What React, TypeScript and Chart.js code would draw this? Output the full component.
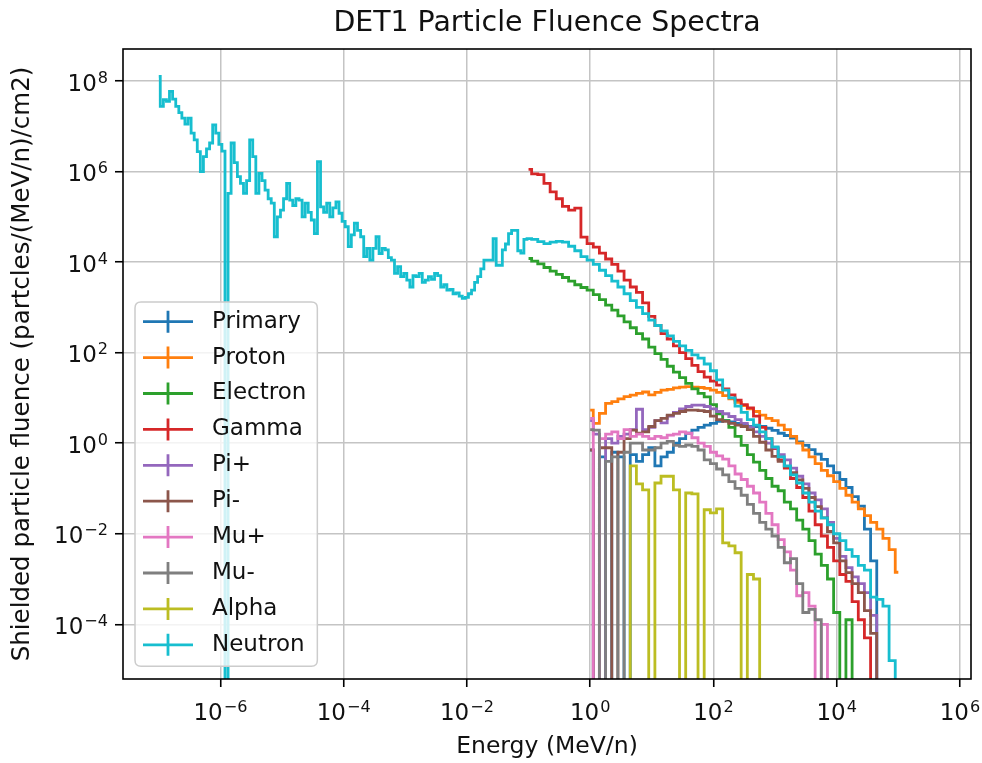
import React, { useEffect, useRef } from "react";
import { Chart, registerables } from "chart.js";

Chart.register(...registerables);

// ---------- text ----------
const TITLE = "DET1 Particle Fluence Spectra";
const X_LABEL = "Energy (MeV/n)";
const Y_LABEL = "Shielded particle fluence (partcles/(MeV/n)/cm2)";

// ---------- axes ----------
const X_MIN = 2.63e-8;
const X_MAX = 1.51e6;
const Y_MIN = 6.19e-6;
const Y_MAX = 5.09e8;
const X_TICKS = [1e-6, 1e-4, 1e-2, 1, 1e2, 1e4, 1e6];
const X_TICK_EXPONENTS = ["−6", "−4", "−2", "0", "2", "4", "6"];
const Y_TICKS = [1e-4, 1e-2, 1, 1e2, 1e4, 1e6, 1e8];
const Y_TICK_EXPONENTS = ["−4", "−2", "0", "2", "4", "6", "8"];
const TICK_BASE = "10";

// ---------- series ----------
const SERIES_NAMES = ["Primary", "Proton", "Electron", "Gamma", "Pi+", "Pi-", "Mu+", "Mu-", "Alpha", "Neutron"];
const SERIES_COLORS = ["#1f77b4", "#ff7f0e", "#2ca02c", "#d62728", "#9467bd", "#8c564b", "#e377c2", "#7f7f7f", "#bcbd22", "#17becf"];

// neutron low-energy bins (MeV/n)
const NEUTRON_LOW_ENERGY = [
  1.00e-7, 1.12e-7, 1.26e-7, 1.41e-7, 1.58e-7, 1.78e-7, 2.00e-7, 2.24e-7, 2.51e-7, 2.82e-7, 3.16e-7, 3.55e-7, 3.98e-7, 4.47e-7, 5.01e-7, 5.62e-7, 6.31e-7, 7.08e-7, 7.94e-7, 8.91e-7,
  1.00e-6, 1.12e-6, 1.26e-6, 1.41e-6, 1.58e-6, 1.78e-6, 2.00e-6, 2.24e-6, 2.51e-6, 2.82e-6, 3.16e-6, 3.55e-6, 3.98e-6, 4.47e-6, 5.01e-6, 5.62e-6, 6.31e-6, 7.08e-6, 7.94e-6, 8.91e-6,
  1.00e-5, 1.12e-5, 1.26e-5, 1.41e-5, 1.58e-5, 1.78e-5, 2.00e-5, 2.24e-5, 2.51e-5, 2.82e-5, 3.16e-5, 3.55e-5, 3.98e-5, 4.47e-5, 5.01e-5, 5.62e-5, 6.31e-5, 7.08e-5, 7.94e-5, 8.91e-5,
  1.00e-4, 1.12e-4, 1.26e-4, 1.41e-4, 1.58e-4, 1.78e-4, 2.00e-4, 2.24e-4, 2.51e-4, 2.82e-4, 3.16e-4, 3.55e-4, 3.98e-4, 4.47e-4, 5.01e-4, 5.62e-4, 6.31e-4, 7.08e-4, 7.94e-4, 8.91e-4,
  1.00e-3, 1.12e-3, 1.26e-3, 1.41e-3, 1.58e-3, 1.78e-3, 2.00e-3, 2.24e-3, 2.51e-3, 2.82e-3, 3.16e-3, 3.55e-3, 3.98e-3, 4.47e-3, 5.01e-3, 5.62e-3, 6.31e-3, 7.08e-3, 7.94e-3, 8.91e-3,
  1.00e-2, 1.12e-2, 1.26e-2, 1.41e-2, 1.58e-2, 1.78e-2, 2.00e-2, 2.24e-2, 2.51e-2, 2.82e-2, 3.16e-2, 3.55e-2, 3.98e-2, 4.47e-2, 5.01e-2, 5.62e-2, 6.31e-2, 7.08e-2, 7.94e-2, 8.91e-2,
];
const NEUTRON_LOW_FLUENCE = [
  1.26e8, 2.75e7, 3.89e7, 3.55e7, 5.89e7, 3.98e7, 2.75e7, 2.0e7, 1.51e7, 1.12e7, 1.51e7, 7.08e6, 5.01e6, 2.75e6, 1.0e6, 2.14e6, 3.16e6, 4.27e6, 1.07e7, 7.08e6,
  3.98e6, 2.82e6, 0, 3.31e5, 4.27e6, 1.58e6, 7.76e5, 5.50e5, 3.31e5, 6.31e5, 5.01e6, 2.14e6, 3.31e5, 9.12e5, 6.31e5, 3.89e5, 2.51e5, 2.0e5, 3.63e4, 1.0e5,
  1.41e5, 2.51e5, 5.50e5, 2.34e5, 1.78e5, 2.51e5, 2.34e5, 1.0e5, 2.0e5, 1.26e5, 8.51e4, 4.27e4, 1.66e6, 1.66e5, 1.26e5, 2.0e5, 1.0e5, 1.58e5, 2.14e5, 1.20e5,
  7.94e4, 6.03e4, 2.19e4, 3.98e4, 7.24e4, 5.01e4, 3.63e4, 1.32e4, 2.0e4, 1.10e4, 2.0e4, 3.63e4, 1.55e4, 2.0e4, 1.86e4, 1.26e4, 1.10e4, 5.62e3, 7.94e3, 4.79e3,
  5.62e3, 3.98e3, 2.82e3, 5.01e3, 4.79e3, 5.62e3, 3.55e3, 3.98e3, 4.79e3, 4.17e3, 5.62e3, 5.01e3, 2.82e3, 3.16e3, 2.40e3, 2.51e3, 2.0e3, 2.09e3, 1.78e3, 1.58e3,
  1.66e3, 2.0e3, 2.40e3, 3.55e3, 4.79e3, 7.08e3, 1.10e4, 1.10e4, 1.10e4, 3.31e4, 8.51e3, 8.51e3, 1.86e4, 2.51e4, 4.27e4, 5.01e4, 5.01e4, 1.78e4, 1.58e4, 3.16e4,
];

// shared energy bins (MeV/n) for the higher-energy spectra
const ENERGY = [
  0.100, 0.126, 0.158, 0.200, 0.251, 0.316, 0.398, 0.501, 0.631, 0.794,
  1.00, 1.26, 1.58, 2.00, 2.51, 3.16, 3.98, 5.01, 6.31, 7.94,
  10.0, 12.6, 15.8, 20.0, 25.1, 31.6, 39.8, 50.1, 63.1, 79.4,
  100, 126, 158, 200, 251, 316, 398, 501, 631, 794,
  1000, 1260, 1580, 2000, 2510, 3160, 3980, 5010, 6310, 7940,
  10000, 12600, 15800, 20000, 25100, 31600, 39800, 50100, 63100, 79400,
  100000,
];

const PRIMARY = [
  null, null, null, null, null, null, null, null, null, null,
  0.708, 0, 0.501, 0, 0.631, 0.501, 0, 0.562, 0.398, 0.562,
  0.794, 0.316, 0.501, 0.631, 1.0, 1.26, 1.66, 1.95, 2.24, 2.51,
  2.75, 3.02, 3.16, 2.95, 2.75, 2.51, 2.34, 2.34, 2.34, 2.14,
  1.91, 1.66, 1.48, 1.29, 1.07, 0.891, 0.724, 0.575, 0.437, 0.316,
  0.224, 0.158, 0.105, 0.0661, 0.0407, 0.0126, 0.00251, 0, null, null,
  null,
];
const PROTON = [
  null, null, null, null, null, null, null, null, null, null,
  5.37, 2.75, 4.57, 7.59, 8.32, 9.55, 10.7, 11.5, 12.6, 13.5,
  11.7, 13.2, 14.8, 15.5, 16.6, 17.4, 17.8, 17.4, 17.0, 16.2,
  14.8, 13.2, 11.2, 9.55, 7.94, 6.76, 5.75, 5.01, 4.17, 3.55,
  3.16, 2.51, 2.0, 1.41, 1.0, 0.708, 0.501, 0.355, 0.251, 0.191,
  0.141, 0.100, 0.0708, 0.0501, 0.0355, 0.0251, 0.0178, 0.0126, 0.00794, 0.00447,
  0.00141,
];
const ELECTRON = [
  12000, 10500, 9120, 7590, 6310, 5370, 4570, 3800, 3160, 2750,
  2400, 1910, 1480, 1120, 871, 646, 479, 355, 263, 200,
  132, 95.5, 70.8, 50.1, 37.2, 28.2, 20.9, 15.8, 12.6, 10.5,
  7.08, 4.47, 3.16, 2.24, 1.41, 0.891, 0.562, 0.380, 0.251, 0.166,
  0.112, 0.0891, 0.0501, 0.0355, 0.0200, 0.0126, 0.00708, 0.00355, 0.00200, 0.00100,
  0.000182, 0, 0.000126, 0, null, null, null, null, null, null,
  null,
];
const GAMMA = [
  1.12e6, 8.91e5, 8.51e5, 5.50e5, 3.55e5, 2.51e5, 1.70e5, 1.41e5, 1.55e5, 3.55e4,
  2.57e4, 2.14e4, 1.58e4, 1.17e4, 8910, 6310, 3980, 2820, 2140, 1260,
  631, 398, 263, 200, 141, 100, 74.1, 52.5, 38.0, 28.8,
  23.4, 19.1, 15.8, 11.7, 8.91, 7.08, 6.03, 3.98, 2.24, 1.26,
  0.759, 0.427, 0.282, 0.166, 0.105, 0.0631, 0.0316, 0.0158, 0.00891, 0.00501,
  0.00251, 0.00126, 0.000891, 0.000316, 0.000126, 0.0000501, 0, null, null, null,
  null,
];
const PI_PLUS = [
  null, null, null, null, null, null, null, null, null, null,
  3.16, 1.58, 0, 1.26, 1.0, 1.41, 1.58, 2.0, 5.62, 2.0,
  2.24, 3.16, 2.82, 3.98, 4.79, 5.75, 6.46, 6.92, 6.92, 6.46,
  5.75, 5.01, 4.47, 3.89, 3.31, 2.75, 2.29, 1.78, 1.41, 1.0,
  0.794, 0.562, 0.427, 0.282, 0.186, 0.126, 0.0794, 0.0562, 0.0355, 0.0178,
  0.00794, 0.00316, 0.00178, 0.00112, 0.000794, 0.000501, 0.000158, 0, null, null,
  null,
];
const PI_MINUS = [
  null, null, null, null, null, null, null, null, null, null,
  0.708, 0, 0.794, 0.794, 0, 0.631, 1.26, 1.95, 1.66, 1.78,
  2.34, 3.16, 3.55, 4.17, 4.57, 5.01, 5.37, 5.37, 5.25, 5.01,
  3.98, 3.31, 3.02, 2.75, 2.51, 2.34, 2.0, 1.41, 1.05, 0.708,
  0.513, 0.398, 0.309, 0.224, 0.155, 0.100, 0.0631, 0.0398, 0.0224, 0.0112,
  0.00631, 0.00251, 0.00138, 0.000794, 0.000501, 0.000200, 0.0000631, 0, null, null,
  null,
];
const MU_PLUS = [
  null, null, null, null, null, null, null, null, null, null,
  3.55, 0, 1.26, 1.58, 1.78, 1.26, 2.0, 1.41, 1.58, 1.41,
  1.26, 1.41, 1.32, 1.51, 1.58, 1.78, 1.66, 1.32, 1.0, 0.851,
  0.631, 0.525, 0.447, 0.316, 0.209, 0.158, 0.112, 0.0794, 0.0501, 0.0282,
  0.0158, 0.00741, 0.00398, 0.00158, 0.000427, 0.000501, 0.000251, 0, 0.000100, 0,
  null, null, null, null, null, null, null, null, null, null,
  null,
];
const MU_MINUS = [
  null, null, null, null, null, null, null, null, null, null,
  2.0, 1.95, 0, 0.398, 0.501, 0, 0.631, 1.0, 1.0, 0.708,
  0.708, 0.794, 1.0, 1.10, 0.891, 0.851, 0.912, 0.851, 0.708, 0.427,
  0.355, 0.269, 0.200, 0.141, 0.100, 0.0708, 0.0447, 0.0282, 0.0178, 0.0126,
  0.00891, 0.00501, 0.00229, 0.00282, 0.000794, 0.000182, 0.000214, 0.000126, 0, null,
  null, null, null, null, null, null, null, null, null, null,
  null,
];
const ALPHA = [
  null, null, null, null, null, null, null, null, null, null,
  null, null, null, null, null, null, 0, 0.316, 0.126, 0.0933,
  0, 0.132, 0.186, 0.186, 0.0933, 0, 0.0794, 0.0759, 0, 0.0339,
  0.0288, 0.0355, 0.00631, 0.00537, 0.00380, 0, 0.00126, 0.00100, 0, null,
  null, null, null, null, null, null, null, null, null, null,
  null, null, null, null, null, null, null, null, null, null,
  null,
];
const NEUTRON_HIGH = [
  33100, 31600, 28200, 25700, 27500, 28800, 27500, 22400, 17800, 13200,
  11000, 8910, 6610, 5010, 3800, 2820, 2000, 1410, 1000, 724,
  525, 398, 302, 234, 178, 141, 112, 89.1, 75.9, 56.2,
  39.8, 25.1, 14.8, 10.0, 6.61, 4.79, 3.31, 2.51, 1.78, 1.26,
  0.832, 0.501, 0.316, 0.200, 0.132, 0.0794, 0.0501, 0.0316, 0.0224, 0.0158,
  0.0100, 0.00708, 0.00447, 0.00316, 0.00200, 0.00158, 0.000398, 0.000355, 0.000251, 0.0000158,
  0,
];

const FONT = '"DejaVu Sans", "Liberation Sans", sans-serif';
const TEXT_COLOR = "#111111";
// empty (zero) bins sit below the log axis floor and are clipped, as in matplotlib
const BELOW_FLOOR = 1e-12;

type Pt = { x: number; y: number };
function toPoints(energy: number[], values: (number | null)[]): Pt[] {
  const out: Pt[] = [];
  energy.forEach((e, i) => {
    const v = values[i];
    if (v !== null && v !== undefined) out.push({ x: e, y: v > 0 ? v : BELOW_FLOOR });
  });
  return out;
}

const SERIES_POINTS: Pt[][] = [
  toPoints(ENERGY, PRIMARY),
  toPoints(ENERGY, PROTON),
  toPoints(ENERGY, ELECTRON),
  toPoints(ENERGY, GAMMA),
  toPoints(ENERGY, PI_PLUS),
  toPoints(ENERGY, PI_MINUS),
  toPoints(ENERGY, MU_PLUS),
  toPoints(ENERGY, MU_MINUS),
  toPoints(ENERGY, ALPHA),
  toPoints(NEUTRON_LOW_ENERGY, NEUTRON_LOW_FLUENCE).concat(toPoints(ENERGY, NEUTRON_HIGH)),
];

function drawPower(ctx: CanvasRenderingContext2D, exp: string, x: number, baseline: number, align: "center" | "right") {
  ctx.font = `23px ${FONT}`;
  const wb = ctx.measureText(TICK_BASE).width;
  ctx.font = `16.1px ${FONT}`;
  const we = ctx.measureText(exp).width;
  const total = wb + we + 1;
  const x0 = align === "center" ? x - total / 2 : x - total;
  ctx.textAlign = "left";
  ctx.textBaseline = "alphabetic";
  ctx.font = `23px ${FONT}`;
  ctx.fillText(TICK_BASE, x0, baseline);
  ctx.font = `16.1px ${FONT}`;
  ctx.fillText(exp, x0 + wb + 1, baseline - 8);
}

const framePlugin = {
  id: "mplFrame",
  afterDraw(chart: any) {
    const { ctx, chartArea, scales } = chart;
    const { left, top, right, bottom } = chartArea;
    ctx.save();
    // spines
    ctx.strokeStyle = "#000";
    ctx.lineWidth = 1.6;
    ctx.strokeRect(left, top, right - left, bottom - top);

    // tick labels
    ctx.fillStyle = TEXT_COLOR;
    X_TICKS.forEach((v, i) => {
      drawPower(ctx, X_TICK_EXPONENTS[i], scales.x.getPixelForValue(v), bottom + 41, "center");
    });
    Y_TICKS.forEach((v, i) => {
      drawPower(ctx, Y_TICK_EXPONENTS[i], left - 15, scales.y.getPixelForValue(v) + 9.7, "right");
    });

    // legend
    ctx.font = `23px ${FONT}`;
    const rowH = 35.9;
    const boxLeft = left + 12;
    const boxTop = top + 253;
    const firstRow = boxTop + 19.7;
    const textX = boxLeft + 77;
    const textW = Math.max(...SERIES_NAMES.map((s) => ctx.measureText(s).width));
    const boxW = textX - boxLeft + textW + 11;
    const boxH = rowH * (SERIES_NAMES.length - 1) + 19.7 + 21.5;
    const r = 6;
    ctx.beginPath();
    ctx.moveTo(boxLeft + r, boxTop);
    ctx.lineTo(boxLeft + boxW - r, boxTop);
    ctx.quadraticCurveTo(boxLeft + boxW, boxTop, boxLeft + boxW, boxTop + r);
    ctx.lineTo(boxLeft + boxW, boxTop + boxH - r);
    ctx.quadraticCurveTo(boxLeft + boxW, boxTop + boxH, boxLeft + boxW - r, boxTop + boxH);
    ctx.lineTo(boxLeft + r, boxTop + boxH);
    ctx.quadraticCurveTo(boxLeft, boxTop + boxH, boxLeft, boxTop + boxH - r);
    ctx.lineTo(boxLeft, boxTop + r);
    ctx.quadraticCurveTo(boxLeft, boxTop, boxLeft + r, boxTop);
    ctx.closePath();
    ctx.fillStyle = "rgba(255,255,255,0.8)";
    ctx.fill();
    ctx.strokeStyle = "#cccccc";
    ctx.lineWidth = 1.5;
    ctx.stroke();

    SERIES_NAMES.forEach((name, i) => {
      const y = firstRow + i * rowH;
      ctx.strokeStyle = SERIES_COLORS[i];
      ctx.lineWidth = 2.8;
      ctx.beginPath();
      ctx.moveTo(boxLeft + 8, y);
      ctx.lineTo(boxLeft + 58, y);
      ctx.moveTo(boxLeft + 33, y - 11);
      ctx.lineTo(boxLeft + 33, y + 11);
      ctx.stroke();
      ctx.fillStyle = TEXT_COLOR;
      ctx.textAlign = "left";
      ctx.textBaseline = "middle";
      ctx.font = `23px ${FONT}`;
      ctx.fillText(name, textX, y);
    });

    // title
    ctx.font = `28.4px ${FONT}`;
    ctx.fillStyle = TEXT_COLOR;
    ctx.textAlign = "center";
    ctx.textBaseline = "middle";
    ctx.fillText(TITLE, (left + right) / 2, 23.5);
    ctx.restore();
  },
};

export default function App() {
  const ref = useRef<HTMLCanvasElement>(null);
  useEffect(() => {
    if (!ref.current) return;
    const chart = new Chart(ref.current, {
      type: "line",
      data: {
        datasets: SERIES_NAMES.map((name, i) => ({
          label: name,
          data: SERIES_POINTS[i],
          borderColor: SERIES_COLORS[i],
          backgroundColor: SERIES_COLORS[i],
          borderWidth: 2.8,
          pointRadius: 0,
          stepped: "middle" as const,
          fill: false,
          clip: 0,
          order: SERIES_NAMES.length - i,
        })),
      },
      options: {
        animation: false,
        responsive: false,
        devicePixelRatio: 1,
        layout: { padding: { top: 49, right: 11, left: 0, bottom: 0 } },
        plugins: {
          legend: { display: false },
          title: { display: false },
          tooltip: { enabled: false },
        },
        scales: {
          x: {
            type: "logarithmic",
            min: X_MIN,
            max: X_MAX,
            afterBuildTicks: (s: any) => {
              s.ticks = X_TICKS.map((v) => ({ value: v }));
            },
            afterFit: (s: any) => {
              s.height = 84;
              s.paddingLeft = 0;
              s.paddingRight = 0;
            },
            border: { display: false },
            grid: { color: "#c4c4c4", lineWidth: 1.5, tickColor: "#000", tickWidth: 1.6, tickLength: 8 },
            ticks: { display: false, autoSkip: false, maxRotation: 0, minRotation: 0 },
            title: {
              display: true,
              text: X_LABEL,
              color: TEXT_COLOR,
              font: { family: FONT, size: 23.5 },
              padding: { top: 0, bottom: 2 },
            },
          },
          y: {
            type: "logarithmic",
            min: Y_MIN,
            max: Y_MAX,
            afterBuildTicks: (s: any) => {
              s.ticks = Y_TICKS.map((v) => ({ value: v }));
            },
            afterFit: (s: any) => {
              s.width = 123;
              s.paddingTop = 0;
              s.paddingBottom = 0;
            },
            border: { display: false },
            grid: { color: "#c4c4c4", lineWidth: 1.5, tickColor: "#000", tickWidth: 1.6, tickLength: 8 },
            ticks: { display: false, autoSkip: false },
            title: {
              display: true,
              text: Y_LABEL,
              color: TEXT_COLOR,
              font: { family: FONT, size: 24.5 },
              padding: { top: 8, bottom: 0 },
            },
          },
        },
      },
      plugins: [framePlugin],
    } as any);
    return () => chart.destroy();
  }, []);

  return (
    <div style={{ position: "absolute", left: 0, top: 0, width: 982, height: 763, background: "#fff" }}>
      <canvas ref={ref} width={982} height={763} style={{ display: "block", width: 982, height: 763 }} />
    </div>
  );
}
